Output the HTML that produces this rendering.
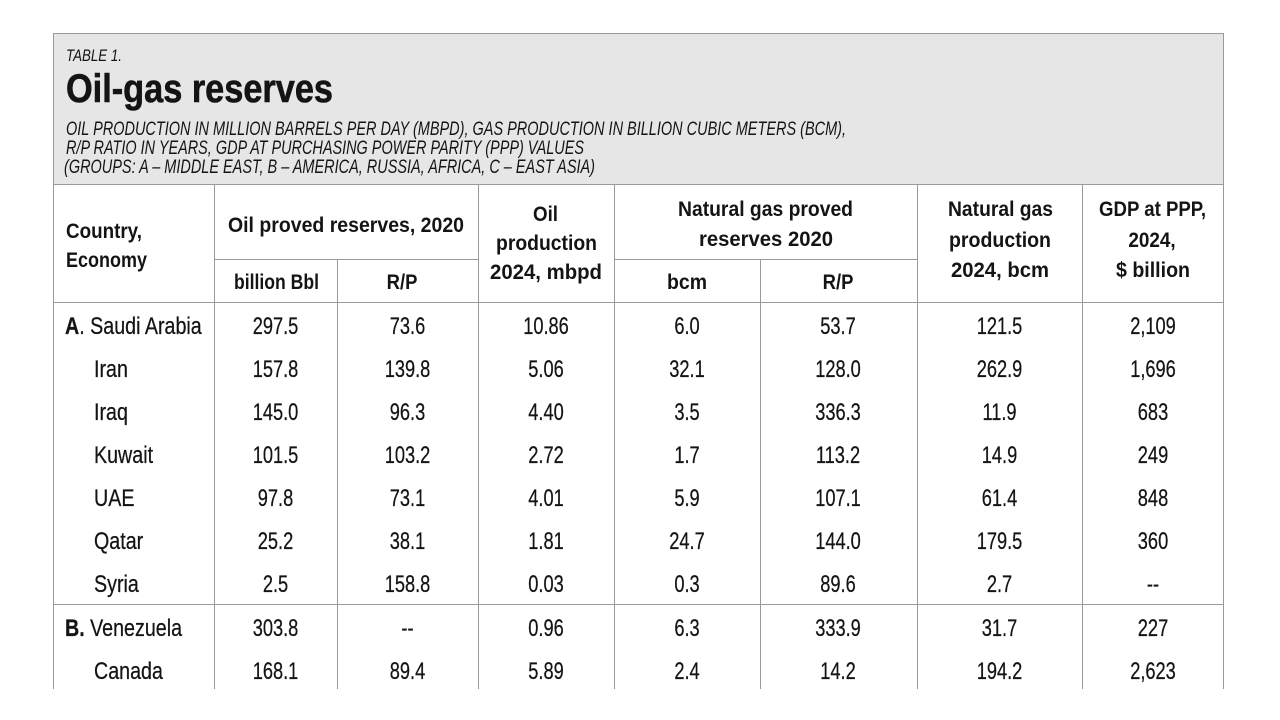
<!DOCTYPE html>
<html>
<head>
<meta charset="utf-8">
<style>
  html,body{margin:0;padding:0;background:#ffffff;}
  body{width:1280px;height:720px;overflow:hidden;}
  svg{display:block;}
  text{font-family:"Liberation Sans", Arial, sans-serif;fill:#141414;}
  .b{font-weight:bold;}
  .h{font-weight:bold;font-size:21px;}
  .d{font-size:24px;stroke:#141414;stroke-width:0.25;}
</style>
</head>
<body>
<svg width="1280" height="720" viewBox="0 0 1280 720" xmlns="http://www.w3.org/2000/svg">
  <!-- header panel -->
  <rect x="53" y="33" width="1171" height="152" fill="#e6e6e7"/>

  <!-- lines -->
  <g stroke="#9a9a9a" stroke-width="1" fill="none" shape-rendering="crispEdges">
    <line x1="53.5" y1="33" x2="53.5" y2="689"/>
    <line x1="1223.5" y1="33" x2="1223.5" y2="689"/>
    <line x1="53" y1="33.5" x2="1224" y2="33.5"/>
    <line x1="53" y1="184.5" x2="1224" y2="184.5"/>
    <line x1="214" y1="259.5" x2="478" y2="259.5"/>
    <line x1="614" y1="259.5" x2="917" y2="259.5"/>
    <line x1="53" y1="302.5" x2="1224" y2="302.5"/>
    <line x1="53" y1="604.5" x2="1224" y2="604.5"/>
    <line x1="214.5" y1="185" x2="214.5" y2="689"/>
    <line x1="337.5" y1="259" x2="337.5" y2="689"/>
    <line x1="478.5" y1="185" x2="478.5" y2="689"/>
    <line x1="614.5" y1="185" x2="614.5" y2="689"/>
    <line x1="760.5" y1="259" x2="760.5" y2="689"/>
    <line x1="917.5" y1="185" x2="917.5" y2="689"/>
    <line x1="1082.5" y1="185" x2="1082.5" y2="689"/>
  </g>

  <!-- title block -->
  <text x="66" y="61" font-size="17" font-style="italic" textLength="56" lengthAdjust="spacingAndGlyphs">TABLE 1.</text>
  <text x="66" y="102" font-size="40" class="b" textLength="267" lengthAdjust="spacingAndGlyphs" stroke="#141414" stroke-width="0.6">Oil-gas reserves</text>
  <text x="66" y="135" font-size="19.5" font-style="italic" textLength="780" lengthAdjust="spacingAndGlyphs">OIL PRODUCTION IN MILLION BARRELS PER DAY (MBPD), GAS PRODUCTION IN BILLION CUBIC METERS (BCM),</text>
  <text x="66" y="154" font-size="19.5" font-style="italic" textLength="518" lengthAdjust="spacingAndGlyphs">R/P RATIO IN YEARS, GDP AT PURCHASING POWER PARITY (PPP) VALUES</text>
  <text x="64" y="173" font-size="19.5" font-style="italic" textLength="531" lengthAdjust="spacingAndGlyphs">(GROUPS: A – MIDDLE EAST, B – AMERICA, RUSSIA, AFRICA, C – EAST ASIA)</text>

  <!-- column headers -->
  <text class="h" x="66" y="238" textLength="76" lengthAdjust="spacingAndGlyphs">Country,</text>
  <text class="h" x="66" y="267" textLength="81" lengthAdjust="spacingAndGlyphs">Economy</text>

  <text class="h" x="228" y="232" textLength="236" lengthAdjust="spacingAndGlyphs">Oil proved reserves, 2020</text>
  <text class="h" x="234" y="289" textLength="85" lengthAdjust="spacingAndGlyphs">billion Bbl</text>
  <text class="h" text-anchor="middle" transform="translate(402 289) scale(0.88 1)">R/P</text>

  <text class="h" x="533" y="221" textLength="25" lengthAdjust="spacingAndGlyphs">Oil</text>
  <text class="h" x="496" y="250" textLength="101" lengthAdjust="spacingAndGlyphs">production</text>
  <text class="h" x="490" y="279" textLength="112" lengthAdjust="spacingAndGlyphs">2024, mbpd</text>

  <text class="h" x="678" y="216" textLength="175" lengthAdjust="spacingAndGlyphs">Natural gas proved</text>
  <text class="h" x="699" y="246" textLength="134" lengthAdjust="spacingAndGlyphs">reserves 2020</text>
  <text class="h" x="667" y="289" textLength="40" lengthAdjust="spacingAndGlyphs">bcm</text>
  <text class="h" text-anchor="middle" transform="translate(838 289) scale(0.88 1)">R/P</text>

  <text class="h" x="948" y="216" textLength="105" lengthAdjust="spacingAndGlyphs">Natural gas</text>
  <text class="h" x="949" y="247" textLength="102" lengthAdjust="spacingAndGlyphs">production</text>
  <text class="h" x="951" y="277" textLength="98" lengthAdjust="spacingAndGlyphs">2024, bcm</text>

  <text class="h" x="1099" y="216" textLength="107" lengthAdjust="spacingAndGlyphs">GDP at PPP,</text>
  <text class="h" text-anchor="middle" transform="translate(1152 247) scale(0.9 1)">2024,</text>
  <text class="h" x="1116" y="277" textLength="74" lengthAdjust="spacingAndGlyphs">$ billion</text>

  <!-- row names -->
  <g>
    <text class="d" transform="translate(65 334) scale(0.82 1)"><tspan font-weight="bold">A</tspan>. Saudi Arabia</text>
    <text class="d" transform="translate(94 377) scale(0.82 1)">Iran</text>
    <text class="d" transform="translate(94 420) scale(0.82 1)">Iraq</text>
    <text class="d" transform="translate(94 463) scale(0.82 1)">Kuwait</text>
    <text class="d" transform="translate(94 506) scale(0.82 1)">UAE</text>
    <text class="d" transform="translate(94 549) scale(0.82 1)">Qatar</text>
    <text class="d" transform="translate(94 592) scale(0.82 1)">Syria</text>
    <text class="d" transform="translate(65 636) scale(0.82 1)"><tspan font-weight="bold">B.</tspan> Venezuela</text>
    <text class="d" transform="translate(94 679) scale(0.82 1)">Canada</text>
  </g>

  <!-- data -->
  <g text-anchor="middle">
    <!-- Saudi Arabia -->
    <text class="d" transform="translate(275.5 334) scale(0.76 1)">297.5</text>
    <text class="d" transform="translate(407.5 334) scale(0.76 1)">73.6</text>
    <text class="d" transform="translate(546 334) scale(0.76 1)">10.86</text>
    <text class="d" transform="translate(687 334) scale(0.76 1)">6.0</text>
    <text class="d" transform="translate(838 334) scale(0.76 1)">53.7</text>
    <text class="d" transform="translate(999.5 334) scale(0.76 1)">121.5</text>
    <text class="d" transform="translate(1153 334) scale(0.76 1)">2,109</text>
    <!-- Iran -->
    <text class="d" transform="translate(275.5 377) scale(0.76 1)">157.8</text>
    <text class="d" transform="translate(407.5 377) scale(0.76 1)">139.8</text>
    <text class="d" transform="translate(546 377) scale(0.76 1)">5.06</text>
    <text class="d" transform="translate(687 377) scale(0.76 1)">32.1</text>
    <text class="d" transform="translate(838 377) scale(0.76 1)">128.0</text>
    <text class="d" transform="translate(999.5 377) scale(0.76 1)">262.9</text>
    <text class="d" transform="translate(1153 377) scale(0.76 1)">1,696</text>
    <!-- Iraq -->
    <text class="d" transform="translate(275.5 420) scale(0.76 1)">145.0</text>
    <text class="d" transform="translate(407.5 420) scale(0.76 1)">96.3</text>
    <text class="d" transform="translate(546 420) scale(0.76 1)">4.40</text>
    <text class="d" transform="translate(687 420) scale(0.76 1)">3.5</text>
    <text class="d" transform="translate(838 420) scale(0.76 1)">336.3</text>
    <text class="d" transform="translate(999.5 420) scale(0.76 1)">11.9</text>
    <text class="d" transform="translate(1153 420) scale(0.76 1)">683</text>
    <!-- Kuwait -->
    <text class="d" transform="translate(275.5 463) scale(0.76 1)">101.5</text>
    <text class="d" transform="translate(407.5 463) scale(0.76 1)">103.2</text>
    <text class="d" transform="translate(546 463) scale(0.76 1)">2.72</text>
    <text class="d" transform="translate(687 463) scale(0.76 1)">1.7</text>
    <text class="d" transform="translate(838 463) scale(0.76 1)">113.2</text>
    <text class="d" transform="translate(999.5 463) scale(0.76 1)">14.9</text>
    <text class="d" transform="translate(1153 463) scale(0.76 1)">249</text>
    <!-- UAE -->
    <text class="d" transform="translate(275.5 506) scale(0.76 1)">97.8</text>
    <text class="d" transform="translate(407.5 506) scale(0.76 1)">73.1</text>
    <text class="d" transform="translate(546 506) scale(0.76 1)">4.01</text>
    <text class="d" transform="translate(687 506) scale(0.76 1)">5.9</text>
    <text class="d" transform="translate(838 506) scale(0.76 1)">107.1</text>
    <text class="d" transform="translate(999.5 506) scale(0.76 1)">61.4</text>
    <text class="d" transform="translate(1153 506) scale(0.76 1)">848</text>
    <!-- Qatar -->
    <text class="d" transform="translate(275.5 549) scale(0.76 1)">25.2</text>
    <text class="d" transform="translate(407.5 549) scale(0.76 1)">38.1</text>
    <text class="d" transform="translate(546 549) scale(0.76 1)">1.81</text>
    <text class="d" transform="translate(687 549) scale(0.76 1)">24.7</text>
    <text class="d" transform="translate(838 549) scale(0.76 1)">144.0</text>
    <text class="d" transform="translate(999.5 549) scale(0.76 1)">179.5</text>
    <text class="d" transform="translate(1153 549) scale(0.76 1)">360</text>
    <!-- Syria -->
    <text class="d" transform="translate(275.5 592) scale(0.76 1)">2.5</text>
    <text class="d" transform="translate(407.5 592) scale(0.76 1)">158.8</text>
    <text class="d" transform="translate(546 592) scale(0.76 1)">0.03</text>
    <text class="d" transform="translate(687 592) scale(0.76 1)">0.3</text>
    <text class="d" transform="translate(838 592) scale(0.76 1)">89.6</text>
    <text class="d" transform="translate(999.5 592) scale(0.76 1)">2.7</text>
    <text class="d" transform="translate(1153 592) scale(0.76 1)">--</text>
    <!-- Venezuela -->
    <text class="d" transform="translate(275.5 636) scale(0.76 1)">303.8</text>
    <text class="d" transform="translate(407.5 636) scale(0.76 1)">--</text>
    <text class="d" transform="translate(546 636) scale(0.76 1)">0.96</text>
    <text class="d" transform="translate(687 636) scale(0.76 1)">6.3</text>
    <text class="d" transform="translate(838 636) scale(0.76 1)">333.9</text>
    <text class="d" transform="translate(999.5 636) scale(0.76 1)">31.7</text>
    <text class="d" transform="translate(1153 636) scale(0.76 1)">227</text>
    <!-- Canada -->
    <text class="d" transform="translate(275.5 679) scale(0.76 1)">168.1</text>
    <text class="d" transform="translate(407.5 679) scale(0.76 1)">89.4</text>
    <text class="d" transform="translate(546 679) scale(0.76 1)">5.89</text>
    <text class="d" transform="translate(687 679) scale(0.76 1)">2.4</text>
    <text class="d" transform="translate(838 679) scale(0.76 1)">14.2</text>
    <text class="d" transform="translate(999.5 679) scale(0.76 1)">194.2</text>
    <text class="d" transform="translate(1153 679) scale(0.76 1)">2,623</text>
  </g>
</svg>
</body>
</html>
